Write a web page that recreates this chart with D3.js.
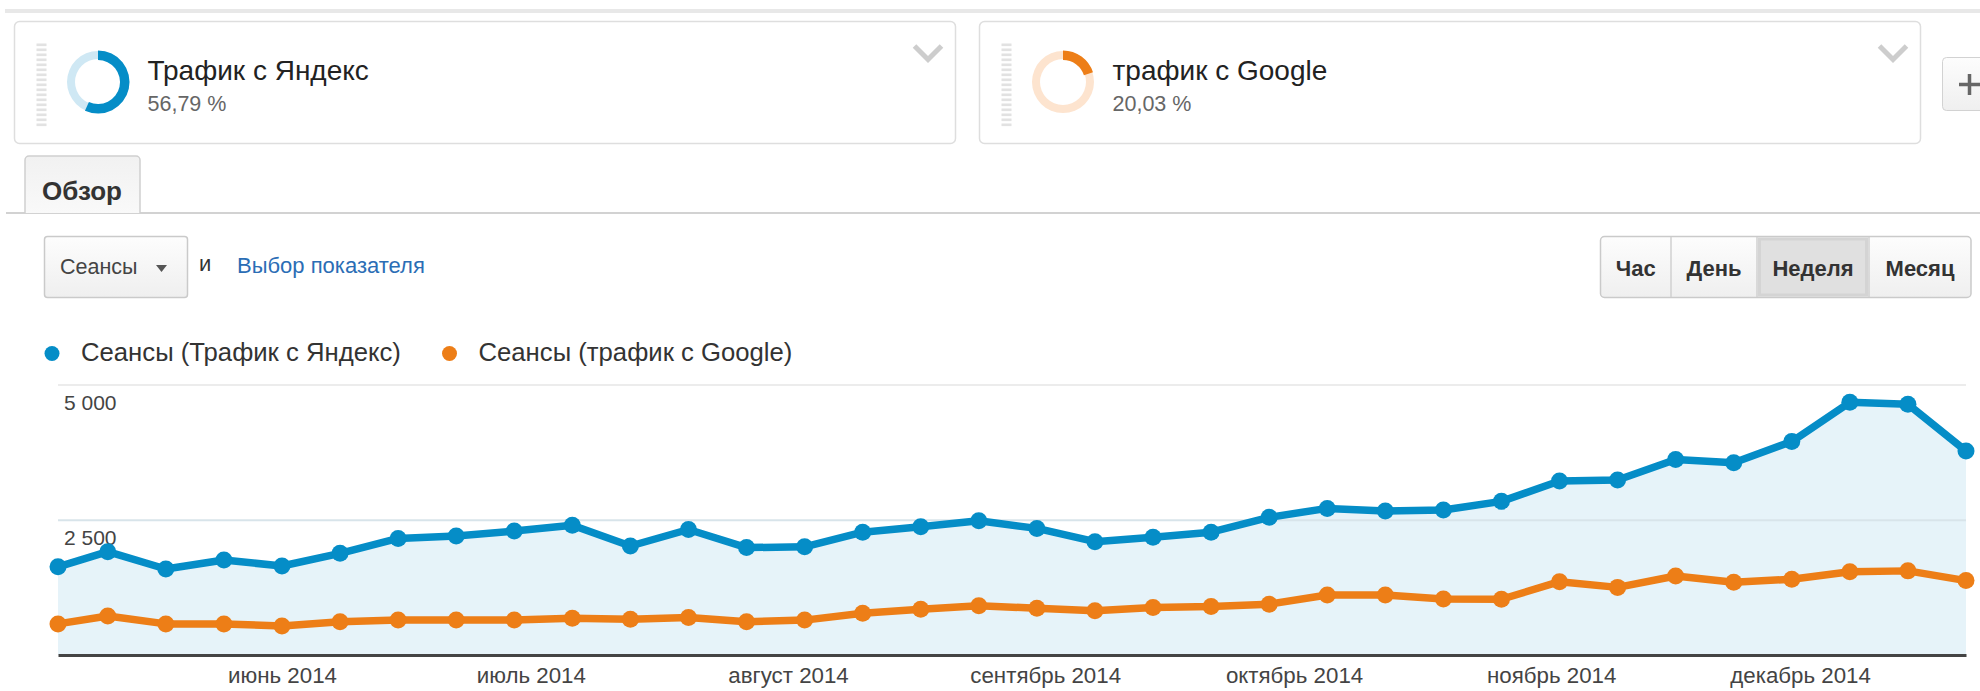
<!DOCTYPE html>
<html>
<head>
<meta charset="utf-8">
<script src="https://cdn.jsdelivr.net/npm/d3@7"></script>
<style>
  body { margin: 0; background: #fff; }
  svg { display: block; }
</style>
</head>
<body>
<div id="chart"></div>
<script>
// weekly points (first one is a partial week)
const weeks = [
  "2014-05-05", "2014-05-11", "2014-05-18", "2014-05-25", "2014-06-01", "2014-06-08",
  "2014-06-15", "2014-06-22", "2014-06-29", "2014-07-06", "2014-07-13", "2014-07-20",
  "2014-07-27", "2014-08-03", "2014-08-10", "2014-08-17", "2014-08-24", "2014-08-31",
  "2014-09-07", "2014-09-14", "2014-09-21", "2014-09-28", "2014-10-05", "2014-10-12",
  "2014-10-19", "2014-10-26", "2014-11-02", "2014-11-09", "2014-11-16", "2014-11-23",
  "2014-11-30", "2014-12-07", "2014-12-14", "2014-12-21"
]
const yandexSessions = [
  1630, 1910, 1590, 1755, 1645, 1880, 2155, 2200, 2290, 2400, 2015, 2320,
  1985, 2000, 2270, 2370, 2480, 2340, 2095, 2175, 2270, 2545, 2710, 2660,
  2680, 2840, 3215, 3235, 3615, 3555, 3945, 4670, 4635, 3770
]
const googleSessions = [
  575, 720, 575, 575, 535, 615, 645, 645, 645, 680, 660, 695,
  615, 645, 770, 845, 910, 865, 820, 880, 895, 940, 1110, 1110,
  1035, 1030, 1355, 1250, 1460, 1345, 1400, 1540, 1555, 1375
]
const monthTicks = ["2014-06-01", "2014-07-01", "2014-08-01", "2014-09-01", "2014-10-01", "2014-11-01", "2014-12-01"]
const monthLabels = ["июнь 2014", "июль 2014", "август 2014", "сентябрь 2014", "октябрь 2014", "ноябрь 2014", "декабрь 2014"]
const yTicks = [2500, 5000]
const yTickLabels = ["2 500", "5 000"]

const segmentNames = ["Трафик с Яндекс", "трафик с Google"]
const segmentShares = [56.79, 20.03]
const seriesNames = ["Сеансы (Трафик с Яндекс)", "Сеансы (трафик с Google)"]
const periods = ["Час", "День", "Неделя", "Месяц"]
const activePeriod = "Неделя"

const COLORS = ["#058dc7", "#ed7e17"]
const LIGHT = ["#cfe8f4", "#fde4cf"]
const FONT = "'Liberation Sans', Arial, sans-serif"
const W = 1980
const H = 691
const PLOT = { LEFT: 58, RIGHT: 1966, TOP: 384.5, BOTTOM: 655 }

const parse = d3.timeParse("%Y-%m-%d")

const svg = d3.select("#chart")
              .append("svg")
              .attr("width", W)
              .attr("height", H)
              .attr("font-family", FONT)

const defs = svg.append("defs")
const btnGrad = defs.append("linearGradient").attr("id", "btn").attr("x1", 0).attr("y1", 0).attr("x2", 0).attr("y2", 1)
btnGrad.append("stop").attr("offset", "0%").attr("stop-color", "#fdfdfd")
btnGrad.append("stop").attr("offset", "100%").attr("stop-color", "#efefef")
const tabGrad = defs.append("linearGradient").attr("id", "tab").attr("x1", 0).attr("y1", 0).attr("x2", 0).attr("y2", 1)
tabGrad.append("stop").attr("offset", "0%").attr("stop-color", "#f1f1f1")
tabGrad.append("stop").attr("offset", "100%").attr("stop-color", "#f9f9f9")

// ---- header: top rule + segment cards ----
svg.append("rect")
   .attr("x", 5).attr("y", 9).attr("width", W - 5).attr("height", 4)
   .attr("fill", "#e8e8e8")

const CARD_X = [14.5, 979.5]
const arc = d3.arc()

segmentNames.forEach((name, i) => {
  const g = svg.append("g").attr("transform", `translate(${CARD_X[i]}, 21.5)`)

  g.append("rect")
   .attr("width", 941).attr("height", 122).attr("rx", 5)
   .attr("fill", "#fff").attr("stroke", "#dedede").attr("stroke-width", 1.5)

  // drag grip
  d3.range(17).forEach(k => {
    g.append("rect")
     .attr("x", 22).attr("y", 22 + k * 5)
     .attr("width", 10).attr("height", 2.6)
     .attr("fill", "#e2e2e2")
  })

  const donut = g.append("g").attr("transform", "translate(83.5, 60.5)")
  donut.append("path")
       .attr("d", arc({ innerRadius: 23, outerRadius: 31, startAngle: 0, endAngle: 2 * Math.PI }))
       .attr("fill", LIGHT[i])
  donut.append("path")
       .attr("d", arc({ innerRadius: 22, outerRadius: 31.5, startAngle: 0, endAngle: 2 * Math.PI * segmentShares[i] / 100 }))
       .attr("fill", COLORS[i])

  g.append("text")
   .attr("x", 133).attr("y", 58.5)
   .attr("font-size", 28).attr("fill", "#222")
   .text(name)

  g.append("text")
   .attr("x", 133).attr("y", 89.5)
   .attr("font-size", 21.5).attr("fill", "#666")
   .text(d3.format(".2f")(segmentShares[i]).replace(".", ",") + " %")

  g.append("polyline")
   .attr("points", "900,24.5 913.5,38 927,24.5")
   .attr("fill", "none").attr("stroke", "#cdcdcd").attr("stroke-width", 5)
})

// "+" button cut off at the right edge
svg.append("rect")
   .attr("x", 1942.5).attr("y", 57.5).attr("width", 60).attr("height", 53).attr("rx", 4)
   .attr("fill", "url(#btn)").attr("stroke", "#d2d2d2")
svg.append("path")
   .attr("d", "M1959,84.5H1980M1969.5,74V95")
   .attr("stroke", "#666").attr("stroke-width", 3.5)

// ---- tab row ----
svg.append("line")
   .attr("x1", 6).attr("x2", W).attr("y1", 213).attr("y2", 213)
   .attr("stroke", "#d2d2d2").attr("stroke-width", 2)
svg.append("path")
   .attr("d", "M25,213V160a4,4 0 0 1 4,-4H136a4,4 0 0 1 4,4V213")
   .attr("fill", "url(#tab)").attr("stroke", "#cfcfcf").attr("stroke-width", 1.5)
svg.append("text")
   .attr("x", 42).attr("y", 200)
   .attr("font-size", 26).attr("font-weight", "bold").attr("fill", "#333")
   .text("Обзор")

// ---- metric selector ----
svg.append("rect")
   .attr("x", 44.5).attr("y", 236.5).attr("width", 143).attr("height", 61).attr("rx", 3)
   .attr("fill", "url(#btn)").attr("stroke", "#cacaca").attr("stroke-width", 1.5)
svg.append("text")
   .attr("x", 60).attr("y", 274)
   .attr("font-size", 21.5).attr("fill", "#444")
   .text("Сеансы")
svg.append("path")
   .attr("d", "M156,265h11l-5.5,7z")
   .attr("fill", "#555")
svg.append("text")
   .attr("x", 199).attr("y", 271)
   .attr("font-size", 22).attr("fill", "#333")
   .text("и")
svg.append("text")
   .attr("x", 237).attr("y", 273)
   .attr("font-size", 22).attr("fill", "#2b6db5")
   .text("Выбор показателя")

// ---- period buttons ----
const BTN_EDGES = [1600.5, 1671, 1757, 1869, 1971]
svg.append("rect")
   .attr("x", BTN_EDGES[0]).attr("y", 236.5)
   .attr("width", BTN_EDGES[4] - BTN_EDGES[0]).attr("height", 61).attr("rx", 4)
   .attr("fill", "url(#btn)").attr("stroke", "#cacaca").attr("stroke-width", 1.5)

periods.forEach((p, i) => {
  const x0 = BTN_EDGES[i]
  const x1 = BTN_EDGES[i + 1]
  if (p === activePeriod) {
    svg.append("rect")
       .attr("x", x0 + 1).attr("y", 237.5).attr("width", x1 - x0 - 2).attr("height", 59)
       .attr("fill", "#e0e0e0")
    svg.append("rect")
       .attr("x", x0 + 2.5).attr("y", 239).attr("width", x1 - x0 - 5).attr("height", 56)
       .attr("fill", "none").attr("stroke", "#d4d4d4").attr("stroke-width", 3)
  }
  if (i > 0) {
    svg.append("line")
       .attr("x1", x0).attr("x2", x0).attr("y1", 237).attr("y2", 297)
       .attr("stroke", "#d0d0d0").attr("stroke-width", 1.5)
  }
  svg.append("text")
     .attr("x", (x0 + x1) / 2).attr("y", 276)
     .attr("text-anchor", "middle")
     .attr("font-size", 22).attr("font-weight", "bold").attr("fill", "#333")
     .text(p)
})

// ---- legend ----
const LEGEND_X = [52, 449.5]
seriesNames.forEach((name, i) => {
  svg.append("circle")
     .attr("cx", LEGEND_X[i]).attr("cy", 353.5).attr("r", 7.5)
     .attr("fill", COLORS[i])
  svg.append("text")
     .attr("x", LEGEND_X[i] + 29).attr("y", 361)
     .attr("font-size", 25.7).attr("fill", "#333")
     .text(name)
})

// ---- chart ----
const data = weeks.map((w, i) => ({
  date: parse(w),
  yandex: yandexSessions[i],
  google: googleSessions[i]
}))

const x = d3.scaleTime()
            .domain(d3.extent(data, d => d.date))
            .range([PLOT.LEFT, PLOT.RIGHT])
const y = d3.scaleLinear()
            .domain([0, 5000])
            .range([PLOT.BOTTOM, PLOT.TOP])

const area = d3.area()
               .x(d => x(d.date))
               .y0(y(0))
               .y1(d => y(d.yandex))
svg.append("path")
   .datum(data)
   .attr("d", area)
   .attr("fill", "#e6f3f9")

const yAxis = svg.append("g")
                 .attr("transform", `translate(${PLOT.LEFT}, 0)`)
                 .attr("font-family", FONT)
                 .call(d3.axisLeft(y)
                         .tickValues(yTicks)
                         .tickSize(-(PLOT.RIGHT - PLOT.LEFT))
                         .tickFormat((d, i) => yTickLabels[i]))
yAxis.select(".domain").remove()
yAxis.selectAll(".tick line")
     .attr("stroke", (d, i) => i === 0 ? "#d8e4ea" : "#ececec")
     .attr("stroke-width", 2)
yAxis.selectAll(".tick text")
     .attr("x", 6)
     .attr("dy", 25)
     .attr("text-anchor", "start")
     .attr("font-size", 21)
     .attr("fill", "#444")

const xAxis = svg.append("g")
                 .attr("transform", `translate(0, ${PLOT.BOTTOM})`)
                 .attr("font-family", FONT)
                 .call(d3.axisBottom(x)
                         .tickValues(monthTicks.map(parse))
                         .tickSize(0)
                         .tickSizeOuter(0)
                         .tickFormat((d, i) => monthLabels[i]))
xAxis.select(".domain")
     .attr("stroke", "#444")
     .attr("stroke-width", 3)
xAxis.selectAll(".tick text")
     .attr("y", 28)
     .attr("dy", null)
     .attr("font-size", 22.3)
     .attr("fill", "#444")

const series = [
  { key: "yandex", color: COLORS[0] },
  { key: "google", color: COLORS[1] }
]

series.slice().reverse().forEach(s => {
  const line = d3.line()
                 .x(d => x(d.date))
                 .y(d => y(d[s.key]))
  svg.append("path")
     .datum(data)
     .attr("d", line)
     .attr("fill", "none")
     .attr("stroke", s.color)
     .attr("stroke-width", 7.5)
     .attr("stroke-linejoin", "round")

  svg.selectAll(null)
     .data(data)
     .join("circle")
     .attr("cx", d => x(d.date))
     .attr("cy", d => y(d[s.key]))
     .attr("r", 8.5)
     .attr("fill", s.color)
})
</script>
</body>
</html>
